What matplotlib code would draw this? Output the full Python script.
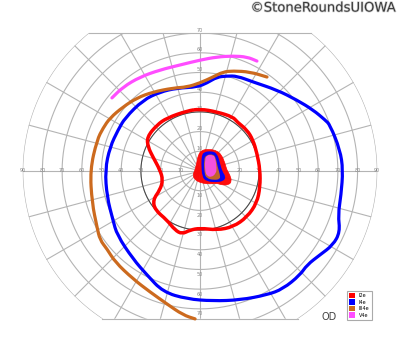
import matplotlib
matplotlib.use("Agg")
import matplotlib.pyplot as plt
import matplotlib.patheffects as pe
from matplotlib.patches import Polygon, Patch, PathPatch
from matplotlib.path import Path
import numpy as np

# isopters, visual field coordinates in degrees (x = temporal/nasal, y = superior/inferior)
i4e_x = [-38.1, -28.9, -20.3, -11.7, -1.5, 3.6, 8.6, 13.7, 18.8, 26.9, 39.1, 49.2, 57.4, 63.5, 66.0,
         71.1, 72.6, 71.6, 70.1, 71.1, 67.5, 60.9, 54.3, 50.8, 42.1, 34.0, 20.3, 6.6, -6.6, -18.8,
         -26.9, -34.0, -42.1, -44.2, -47.2, -48.2, -45.7, -41.6]
i4e_y = [26.9, 36.0, 40.1, 42.1, 42.6, 44.7, 47.7, 48.2, 48.2, 45.2, 41.1, 36.0, 31.0, 25.9, 23.4,
         10.7, 0.5, -12.2, -22.3, -31.0, -37.6, -42.6, -47.7, -52.8, -59.9, -62.9, -65.5, -66.0, -65.0, -61.4,
         -52.8, -44.7, -32.5, -24.9, -13.2, 0.5, 12.2, 20.8]

iii4e_x = [34.0, 25.4, 16.8, 11.7, 6.6, 0.0, -6.6, -13.7, -23.9, -32.0, -39.1, -45.7, -49.2, -52.3,
           -55.8, -54.8, -52.3, -50.8, -47.2, -43.1, -34.0, -25.4, -16.8, -8.6, -2.5]
iii4e_y = [47.7, 50.3, 50.8, 50.3, 47.7, 44.7, 42.6, 42.1, 40.1, 37.1, 32.5, 26.9, 21.8, 15.7,
           0.5, -16.2, -28.4, -35.0, -39.6, -46.2, -54.8, -61.4, -67.5, -73.1, -75.1]

v4e_x = [-44.7, -39.1, -30.5, -20.3, -10.2, 0.0, 8.6, 16.8, 23.9, 28.9]
v4e_y = [37.1, 42.6, 47.7, 51.3, 53.8, 56.3, 57.9, 58.4, 57.9, 55.8]

i2e_x = [0.0, 8.6, 16.8, 18.8, 23.9, 26.9, 28.9, 30.5, 30.5, 28.9, 23.9, 16.8, 8.6, 0.0, -5.1, -9.1,
         -12.7, -16.8, -22.8, -23.9, -20.3, -18.8, -20.3, -23.9, -26.4, -26.9, -21.8, -16.8, -6.6]
i2e_y = [31.5, 30.0, 27.4, 24.9, 20.8, 15.7, 9.1, 0.5, -8.1, -16.2, -23.4, -28.4, -30.0, -29.0, -30.0, -32.0,
         -30.0, -24.9, -19.8, -14.7, -9.6, -4.6, 0.5, 7.1, 12.2, 17.3, 23.4, 26.9, 30.5]

# central islands
c_i2e_x = [0.9, 5.1, 8.5, 11.0, 12.7, 13.6, 15.2, 16.1, 14.4, 11.0, 8.5, 5.1, 0.9, -2.5, -3.7, -2.5, -1.7, -0.9]
c_i2e_y = [10.7, 11.0, 10.3, 8.1, 3.9, 0.5, -2.0, -5.4, -7.1, -7.1, -6.2, -6.6, -6.2, -4.6, -2.0, 0.5, 3.9, 8.1]
c_i4e_x = [2.0, 5.9, 8.5, 9.8, 11.0, 12.7, 11.8, 7.6, 3.4, 1.4, 1.0, 1.2]
c_i4e_y = [9.3, 9.8, 8.6, 3.9, -0.4, -2.9, -4.9, -5.4, -4.9, -2.9, 3.9, 7.3]
c_iii4e_x = [3.0, 6.8, 8.1, 8.9, 10.2, 10.2, 6.8, 3.4, 2.2, 2.0]
c_iii4e_y = [8.1, 8.6, 6.4, 2.2, -2.0, -4.2, -4.6, -3.7, -1.2, 5.6]
c_v4e_x = [3.4, 6.8, 7.8, 8.5, 8.1, 5.9, 3.4, 2.5, 2.5]
c_v4e_y = [8.1, 8.1, 6.4, 1.4, -1.2, -3.2, -2.5, 0.5, 5.6]

labels = ["I2e", "I4e", "III4e", "V4e"]
colors = ["#ff0000", "#0000ff", "#cc6a1e", "#ff4dff"]

rings = [10, 20, 30, 40, 50, 60, 70, 80, 90]
top_cut, bottom_cut = 70, -75


def smooth_path(xs, ys, closed):
    # quadratic bezier through the midpoints, points act as control points
    p = np.column_stack([xs, ys])
    n = len(p)
    if closed:
        mids = (p + np.roll(p, -1, axis=0)) / 2
        verts = [mids[-1]]
        codes = [Path.MOVETO]
        for i in range(n):
            verts += [p[i], mids[i]]
            codes += [Path.CURVE3, Path.CURVE3]
    else:
        verts = [p[0], (p[0] + p[1]) / 2]
        codes = [Path.MOVETO, Path.LINETO]
        for i in range(1, n - 1):
            verts += [p[i], (p[i] + p[i + 1]) / 2]
            codes += [Path.CURVE3, Path.CURVE3]
        verts.append(p[-1])
        codes.append(Path.LINETO)
    return Path(verts, codes)


fig = plt.figure(figsize=(4, 3.52), dpi=100)
ax = fig.add_axes([0, 0, 1, 1])
ax.set_xlim(-101.5, 101.5)
ax.set_ylim(-91.9, 86.8)
ax.set_aspect("equal")
ax.axis("off")

# clipping region: 90 deg circle cut at top and bottom
t = np.linspace(0, 2 * np.pi, 721)
cx, cy = 90 * np.cos(t), np.clip(90 * np.sin(t), bottom_cut, top_cut)
clip = Polygon(np.column_stack([cx, cy]), closed=True, transform=ax.transData, facecolor="none", edgecolor="none")
ax.add_patch(clip)

grid_kw = dict(color="#b4b4b4", lw=0.8, zorder=1)
for r in rings:
    ln, = ax.plot(r * np.cos(t), r * np.sin(t), **grid_kw)
    ln.set_clip_path(clip)
for a in range(0, 360, 15):
    ln, = ax.plot([0, 95 * np.cos(np.radians(a))], [0, 95 * np.sin(np.radians(a))], **grid_kw)
    ln.set_clip_path(clip)
for yc in (top_cut, bottom_cut):
    half = np.sqrt(90 ** 2 - yc ** 2)
    ax.plot([-half, half], [yc, yc], **grid_kw)
ax.plot(30 * np.cos(t), 30 * np.sin(t), color="#444444", lw=0.7, zorder=2)

lab_kw = dict(fontsize=3.5, color="#888888", ha="center", va="center", zorder=3)
for r in rings:
    ax.text(-r, 0, str(r), **lab_kw)
    ax.text(r, 0, str(r), **lab_kw)
    if r <= 70:
        ax.text(0, r + 1.5, str(r), **lab_kw)
        ax.text(0, -r - 2.5, str(r), **lab_kw)

# isopters
ax.add_patch(PathPatch(smooth_path(i4e_x, i4e_y, True), fill=False, edgecolor=colors[1], lw=2.3, zorder=4))
ax.add_patch(PathPatch(smooth_path(iii4e_x, iii4e_y, False), fill=False, edgecolor=colors[2], lw=2.3,
                       capstyle="round", zorder=4))
ax.add_patch(PathPatch(smooth_path(v4e_x, v4e_y, False), fill=False, edgecolor=colors[3], lw=2.3,
                       capstyle="round", zorder=4))
ax.add_patch(PathPatch(smooth_path(i2e_x, i2e_y, True), fill=False, edgecolor=colors[0], lw=2.5, zorder=4))

ax.add_patch(PathPatch(smooth_path(c_i2e_x, c_i2e_y, True), facecolor=colors[0], edgecolor=colors[0],
                       lw=0.5, alpha=0.95, zorder=5))
ax.add_patch(PathPatch(smooth_path(c_i4e_x, c_i4e_y, True), facecolor=colors[1], edgecolor=colors[1],
                       lw=1.0, alpha=0.95, zorder=6))
ax.add_patch(PathPatch(smooth_path(c_iii4e_x, c_iii4e_y, True), facecolor=colors[2], edgecolor="none",
                       alpha=0.95, zorder=7))
ax.add_patch(PathPatch(smooth_path(c_v4e_x, c_v4e_y, True), facecolor=colors[3], edgecolor="none",
                       alpha=0.85, zorder=8))

handles = [Patch(facecolor=c, edgecolor="none") for c in colors]
leg = ax.legend(handles, labels, loc="lower right", bbox_to_anchor=(0.935, 0.085), fontsize=3.5,
                handlelength=1.3, handleheight=1.3, handletextpad=0.8, labelspacing=0.25,
                borderpad=0.4, fancybox=False, framealpha=1)
leg.get_frame().set_edgecolor("#aaaaaa")
leg.get_frame().set_linewidth(0.8)

fig.text(329 / 400, 1 - 317 / 352, "OD", fontsize=7, color="#444444", ha="center", va="center")
fig.text(0.992, 0.977, "\u00a9StoneRoundsUIOWA", fontsize=9.5, color="#3a3a3a", ha="right", va="center",
         path_effects=[pe.withStroke(linewidth=1.0, foreground="#d0d0d0")])

fig.savefig("out.png", dpi=100)
